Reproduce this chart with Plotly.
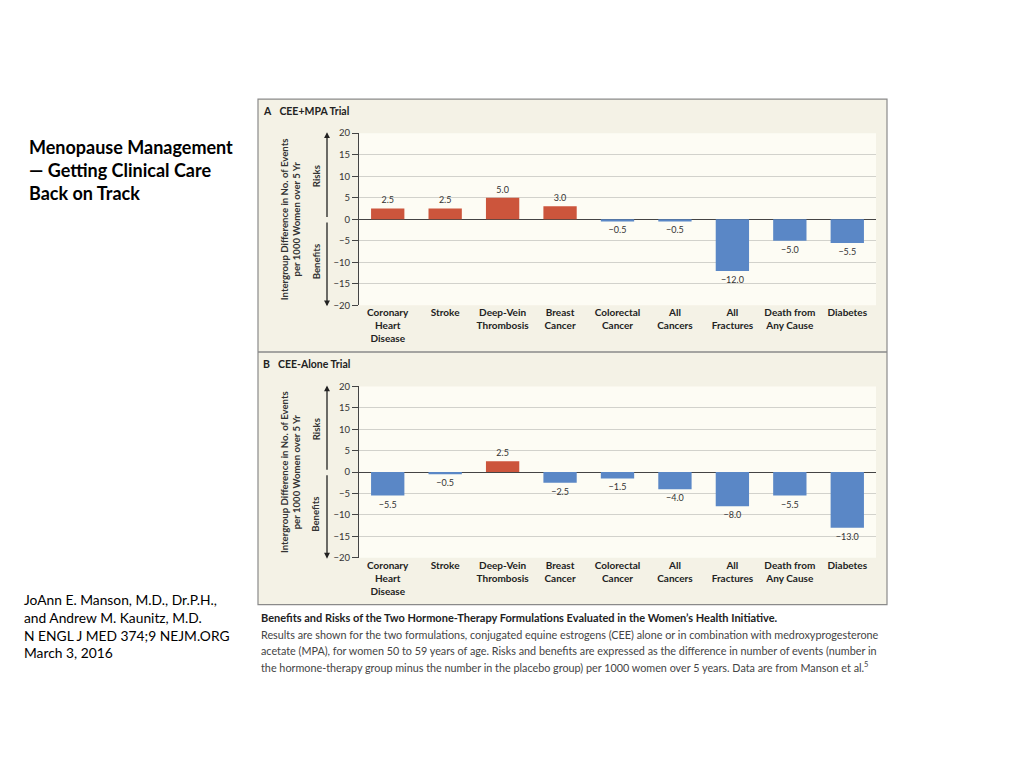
import plotly.graph_objects as go

# ---------------- data ----------------
categories = ["Coronary<br>Heart<br>Disease", "Stroke", "Deep-Vein<br>Thrombosis",
              "Breast<br>Cancer", "Colorectal<br>Cancer", "All<br>Cancers",
              "All<br>Fractures", "Death from<br>Any Cause", "Diabetes"]
cee_mpa = [2.5, 2.5, 5.0, 3.0, -0.5, -0.5, -12.0, -5.0, -5.5]
cee_alone = [-5.5, -0.5, 2.5, -2.5, -1.5, -4.0, -8.0, -5.5, -13.0]
y_ticks = [20, 15, 10, 5, 0, -5, -10, -15, -20]
y_ticktext = [str(t).replace("-", "\u2212") for t in y_ticks]

# page placement calibration (body margin, vertical rendering scale)
OFF_X, OFF_Y, SY = 8, 14, 0.984
W, H = 1024 - 2 * OFF_X, 740
def X(px): return (px - OFF_X) / W
def Y(py): return 1 - ((py - OFF_Y) / SY) / H

RED = "#cc553c"
BLUE = "#5a87c6"
FONT = "Lato"

fig = go.Figure()

panels = [
    (cee_mpa, "x", "y", 133, 305, 111, "<b>A</b>   <b>CEE+MPA Trial</b>"),
    (cee_alone, "x2", "y2", 386, 557, 364, "<b>B</b>   <b>CEE-Alone Trial</b>"),
]

shapes = []
annotations = []

# panel frame
shapes.append(dict(type="rect", xref="paper", yref="paper", x0=X(258), x1=X(887), y0=Y(604), y1=Y(99),
                   line=dict(color="#8a8a8a", width=1.2), fillcolor="#f4f2e6", layer="below"))
shapes.append(dict(type="line", xref="paper", yref="paper", x0=X(258), x1=X(887), y0=Y(351.5), y1=Y(351.5),
                   line=dict(color="#8a8a8a", width=1.5)))

for idx, (vals, xa, ya, top, bot, ttl_y, ttl) in enumerate(panels):
    colors = [RED if v > 0 else BLUE for v in vals]
    texts = [f"{v:.1f}".replace("-", "\u2212") for v in vals]
    fig.add_trace(go.Bar(x=categories, y=vals, marker=dict(color=colors, line=dict(width=0)),
                         text=texts, textposition="outside", cliponaxis=False,
                         textfont=dict(family=FONT, size=9, color="#333333"),
                         xaxis=xa, yaxis=ya, showlegend=False, hoverinfo="skip"))
    xk = "xaxis" if idx == 0 else "xaxis2"
    yk = "yaxis" if idx == 0 else "yaxis2"
    fig.layout[xk] = dict(domain=[X(359), X(876)], anchor=ya, showgrid=False, zeroline=False,
                          showline=False, ticks="", tickangle=0,
                          tickfont=dict(family=FONT, size=10, color="#222222", weight="bold"),
                          fixedrange=True)
    fig.layout[yk] = dict(domain=[Y(bot), Y(top)], anchor=xa, range=[-20, 20],
                          tickvals=y_ticks, ticktext=y_ticktext, ticks="outside", ticklen=6,
                          tickcolor="#444444", tickwidth=1,
                          showline=True, linecolor="#444444", linewidth=1,
                          showgrid=True, gridcolor="#d2d2cc", gridwidth=1,
                          zeroline=True, zerolinecolor="#444444", zerolinewidth=1.2,
                          tickfont=dict(family=FONT, size=9.5, color="#333333"),
                          fixedrange=True)
    # white plot area background
    shapes.append(dict(type="rect", xref="paper", yref="paper", x0=X(359), x1=X(876), y0=Y(bot), y1=Y(top),
                       line=dict(width=0), fillcolor="#fdfcf4", layer="below"))
    zero = (top + bot) / 2
    # panel title
    annotations.append(dict(x=X(261), y=Y(ttl_y), xref="paper", yref="paper", text=ttl, showarrow=False,
                            xanchor="left", yanchor="middle",
                            font=dict(family=FONT, size=10.5, color="#222222")))
    # y-axis title
    annotations.append(dict(x=X(290), y=Y(zero), xref="paper", yref="paper",
                            text="<b>Intergroup Difference in No. of Events<br>per 1000 Women over 5 Yr</b>",
                            showarrow=False, textangle=-90, xanchor="center", yanchor="middle",
                            font=dict(family=FONT, size=9.6, color="#333333")))
    annotations.append(dict(x=X(316), y=Y(top + (zero - top) * 0.5), xref="paper", yref="paper",
                            text="<b>Risks</b>", showarrow=False, textangle=-90,
                            xanchor="center", yanchor="middle",
                            font=dict(family=FONT, size=9.6, color="#333333")))
    annotations.append(dict(x=X(316), y=Y(zero + (bot - zero) * 0.5), xref="paper", yref="paper",
                            text="<b>Benefits</b>", showarrow=False, textangle=-90,
                            xanchor="center", yanchor="middle",
                            font=dict(family=FONT, size=9.6, color="#333333")))
    # arrows
    annotations.append(dict(x=X(327), y=Y(top - 1), xref="paper", yref="paper", text="",
                            showarrow=True, ax=0, ay=((zero - 2) - (top - 1)) / SY, axref="pixel", ayref="pixel",
                            arrowhead=2, arrowsize=0.9, arrowwidth=1.3, arrowcolor="#222222"))
    annotations.append(dict(x=X(327), y=Y(bot + 1), xref="paper", yref="paper", text="",
                            showarrow=True, ax=0, ay=((zero + 3) - (bot + 1)) / SY, axref="pixel", ayref="pixel",
                            arrowhead=2, arrowsize=0.9, arrowwidth=1.3, arrowcolor="#222222"))

# caption
caption_lines = [
    "Results are shown for the two formulations, conjugated equine estrogens (CEE) alone or in combination with medroxyprogesterone",
    "acetate (MPA), for women 50 to 59 years of age. Risks and benefits are expressed as the difference in number of events (number in",
    "the hormone-therapy group minus the number in the placebo group) per 1000 women over 5 years. Data are from Manson et al.<sup>5</sup>",
]
annotations.append(dict(x=X(259), y=Y(617), xref="paper", yref="paper", xanchor="left", yanchor="middle",
                        align="left", showarrow=False,
                        text="<b>Benefits and Risks of the Two Hormone-Therapy Formulations Evaluated in the Women\u2019s Health Initiative.</b>",
                        font=dict(family=FONT, size=11, color="#222222")))
for i, line in enumerate(caption_lines):
    annotations.append(dict(x=X(259), y=Y(634 + 16 * i), xref="paper", yref="paper", xanchor="left",
                            yanchor="middle", align="left", showarrow=False, text=line,
                            font=dict(family=FONT, size=10.8, color="#444444")))

# left side text
title_lines = ["Menopause Management", "\u2014 Getting Clinical Care", "Back on Track"]
for i, line in enumerate(title_lines):
    annotations.append(dict(x=X(27), y=Y(147 + 23 * i), xref="paper", yref="paper", xanchor="left",
                            yanchor="middle", align="left", showarrow=False, text=f"<b>{line}</b>",
                            font=dict(family=FONT, size=18, color="#000000")))
cite_lines = ["JoAnn E. Manson, M.D., Dr.P.H.,", "and Andrew M. Kaunitz, M.D.",
              "N ENGL J MED 374;9 NEJM.ORG", "March 3, 2016"]
for i, line in enumerate(cite_lines):
    annotations.append(dict(x=X(22), y=Y(599 + 17.7 * i), xref="paper", yref="paper", xanchor="left",
                            yanchor="middle", align="left", showarrow=False, text=line,
                            font=dict(family=FONT, size=13.8, color="#000000")))

fig.update_layout(width=W, height=H, margin=dict(l=0, r=0, t=0, b=0),
                  paper_bgcolor="white", plot_bgcolor="rgba(0,0,0,0)",
                  bargap=0.42, shapes=shapes, annotations=annotations,
                  font=dict(family=FONT))

fig.write_html("out.html")
